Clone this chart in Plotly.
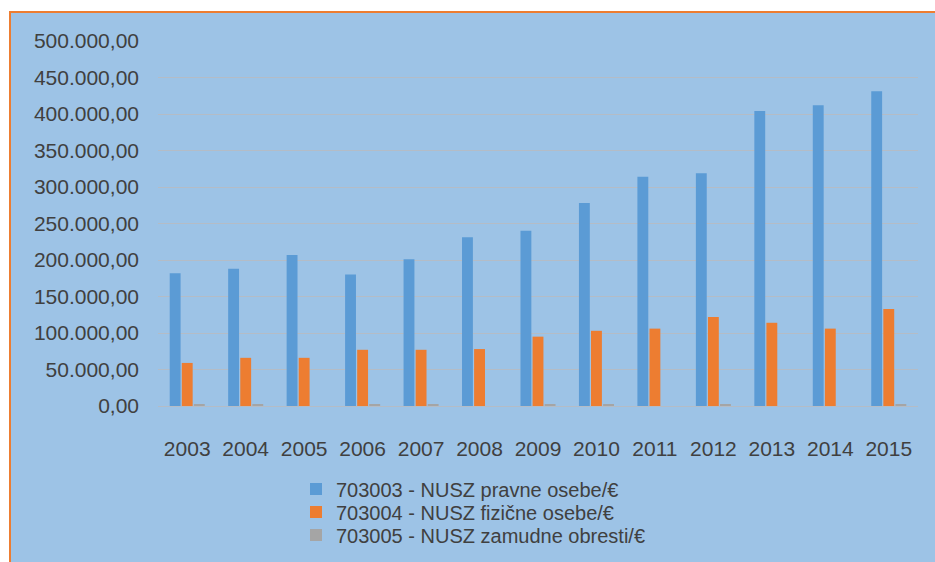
import plotly.graph_objects as go

years = ["2003", "2004", "2005", "2006", "2007", "2008", "2009",
         "2010", "2011", "2012", "2013", "2014", "2015"]
pravne = [182000, 188000, 207000, 180000, 201000, 231000, 240000,
          278000, 314000, 319000, 404000, 412000, 431000]
fizicne = [59000, 66000, 66000, 77000, 77000, 78000, 95000,
           103000, 106000, 122000, 114000, 106000, 133000]
zamudne = [2000, 2000, 0, 2000, 2000, 0, 2000,
           2000, 0, 2000, 0, 0, 2000]
series_names = ["703003 - NUSZ pravne osebe/€",
                "703004 - NUSZ fizične osebe/€",
                "703005 - NUSZ zamudne obresti/€"]
colors = ["#5B9BD5", "#ED7D31", "#A5A5A5"]
ytick_vals = [0, 50000, 100000, 150000, 200000, 250000, 300000, 350000, 400000, 450000, 500000]
ytick_text = ["0,00", "50.000,00", "100.000,00", "150.000,00", "200.000,00", "250.000,00",
              "300.000,00", "350.000,00", "400.000,00", "450.000,00", "500.000,00"]

W, H = 935, 562
L, T = 158, 41
plot_right, plot_bottom = 918, 406
R, B = W - plot_right, H - plot_bottom
pw, ph = W - L - R, H - T - B

def px_x(p):
    return (p - L) / pw

def px_y(p):
    return (plot_bottom - p) / ph

def cx(p):
    return p / W

def cy(p):
    return 1 - p / H

legend_ids = ["legend", "legend2", "legend3"]
legend_centers = [489, 512, 535]

fig = go.Figure()
for name, vals, c, lid in zip(series_names, [pravne, fizicne, zamudne], colors, legend_ids):
    fig.add_trace(go.Bar(x=years, y=vals, name=name, legend=lid,
                         marker=dict(color=c, line=dict(width=0))))

fig.add_shape(type="rect", xref="paper", yref="paper",
              x0=px_x(10), x1=px_x(960), y0=px_y(590), y1=px_y(12),
              fillcolor="#9DC3E6", line=dict(color="#ED7D31", width=2), layer="below")

font_family = "Liberation Sans, Arial, sans-serif"
legend_common = dict(xref="container", yref="container", xanchor="left", yanchor="middle",
                     font=dict(size=20, color="#404040", family=font_family),
                     bgcolor="rgba(0,0,0,0)", borderwidth=0)

fig.update_layout(
    width=W, height=H,
    margin=dict(l=L, r=R, t=T, b=B, autoexpand=False),
    paper_bgcolor="white",
    plot_bgcolor="rgba(0,0,0,0)",
    barmode="group",
    bargap=0.38,
    bargroupgap=0.1,
    font=dict(family=font_family, color="#404040"),
    showlegend=True,
    legend=dict(x=cx(296), y=cy(legend_centers[0]), **legend_common),
    legend2=dict(x=cx(296), y=cy(legend_centers[1]), **legend_common),
    legend3=dict(x=cx(296), y=cy(legend_centers[2]), **legend_common),
    xaxis=dict(showgrid=False, showline=False, zeroline=False,
               tickfont=dict(size=21, color="#404040"), ticklabelstandoff=28,
               ticks="", automargin=False),
    yaxis=dict(range=[0, 500000], tickvals=ytick_vals, ticktext=ytick_text,
               showgrid=True, gridcolor="#B4BCC6", gridwidth=1,
               zeroline=True, zerolinecolor="#B4BCC6", zerolinewidth=1,
               showline=False, tickfont=dict(size=21, color="#404040"),
               ticklabelstandoff=18, ticks="", automargin=False),
)

fig.write_html("out.html", config={"displayModeBar": False},
               post_script="document.body.style.margin='0';document.body.style.overflow='hidden';")
